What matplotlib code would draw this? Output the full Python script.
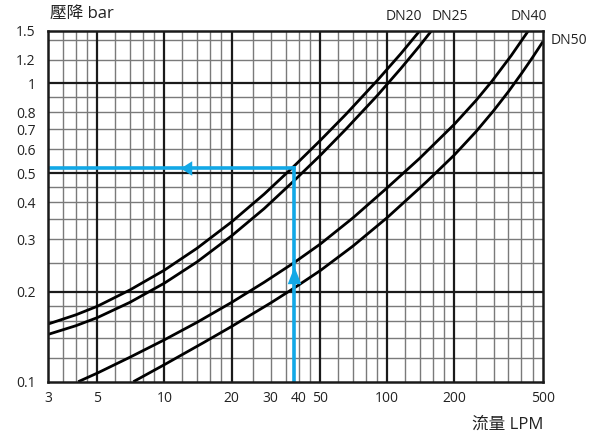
import matplotlib
matplotlib.use('Agg')
import matplotlib.pyplot as plt
from matplotlib.ticker import NullLocator

plt.rcParams['font.family'] = ['Open Sans', 'Noto Sans CJK TC', 'DejaVu Sans']

# ---- data ----
series_names = ['DN20', 'DN25', 'DN40', 'DN50']
dn20_flow = [3, 4, 5, 7, 10, 14, 20, 28, 38, 50, 65, 90, 115, 140]
dn20_dp = [0.156, 0.1675, 0.179, 0.203, 0.2366, 0.280, 0.343, 0.425, 0.526, 0.643, 0.785, 1.02, 1.256, 1.5]
dn25_flow = [3, 4, 5, 7, 10, 14, 20, 28, 38, 50, 65, 90, 115, 140, 158]
dn25_dp = [0.144, 0.154, 0.164, 0.1845, 0.214, 0.252, 0.308, 0.380, 0.470, 0.573, 0.70, 0.908, 1.12, 1.337, 1.5]
dn40_flow = [4.1, 5, 7, 10, 14, 20, 28, 38, 50, 70, 100, 140, 200, 250, 295, 360, 430]
dn40_dp = [0.1, 0.1069, 0.1208, 0.1382, 0.1581, 0.1843, 0.2153, 0.250, 0.2891, 0.3535, 0.4467,
           0.561, 0.7287, 0.875, 1.016, 1.238, 1.5]
dn50_flow = [7.25, 10, 15, 20, 30, 38, 50, 70, 100, 150, 200, 250, 300, 350, 400, 450, 500]
dn50_dp = [0.1, 0.1141, 0.1353, 0.1531, 0.1837, 0.2055, 0.2356, 0.2844, 0.3549, 0.4675, 0.5751,
           0.688, 0.809, 0.938, 1.077, 1.224, 1.38]

x_tick_values = [3, 5, 10, 20, 30, 40, 50, 100, 200, 500]
x_tick_labels = ['3', '5', '10', '20', '30', '40', '50', '100', '200', '500']
y_tick_values = [0.1, 0.2, 0.3, 0.4, 0.5, 0.6, 0.7, 0.8, 1, 1.2, 1.5]
y_tick_labels = ['0.1', '0.2', '0.3', '0.4', '0.5', '0.6', '0.7', '0.8', '1', '1.2', '1.5']

x_major_grid = [5, 10, 20, 50, 100, 200]
x_minor_grid = [3.5, 4, 4.5, 6, 7, 8, 9, 12, 14, 16, 18, 25, 30, 35, 40, 45,
                60, 70, 80, 90, 120, 140, 160, 180, 250, 300, 350, 400, 450]
y_major_grid = [0.2, 0.5, 1]
y_minor_grid = [0.12, 0.14, 0.16, 0.18, 0.25, 0.3, 0.35, 0.4, 0.45,
                0.6, 0.7, 0.8, 0.9, 1.2, 1.4]

example_flow = 38.2
example_dp = 0.52
arrow_left_x = 12.46
arrow_up_y = 0.228

# ---- figure ----
fig = plt.figure(figsize=(5.97, 4.34), dpi=100)
ax = fig.add_axes([48 / 597, 1 - 381.7 / 434, 495 / 597, 351 / 434])
ax.set_xscale('log')
ax.set_yscale('log')
ax.set_xlim(3, 500)
ax.set_ylim(0.1, 1.5)

for v in x_minor_grid:
    ax.axvline(v, color='#7a7a7a', lw=1.0, zorder=1)
for v in y_minor_grid:
    ax.axhline(v, color='#7a7a7a', lw=1.0, zorder=1)
for v in x_major_grid:
    ax.axvline(v, color='#1a1a1a', lw=1.6, zorder=1.5)
for v in y_major_grid:
    ax.axhline(v, color='#1a1a1a', lw=1.6, zorder=1.5)

for fx, dp in [(dn20_flow, dn20_dp), (dn25_flow, dn25_dp), (dn40_flow, dn40_dp), (dn50_flow, dn50_dp)]:
    ax.plot(fx, dp, color='black', lw=2.0, solid_capstyle='butt', solid_joinstyle='round', zorder=3)

blue = '#12a8e6'
ax.plot([3.09, example_flow], [example_dp, example_dp], color=blue, lw=2.6, zorder=4,
        solid_capstyle='projecting')
ax.plot([example_flow, example_flow], [0.1, example_dp], color=blue, lw=2.6, zorder=4)
ax.plot([arrow_left_x], [example_dp], marker=[(-0.786, 0), (0.786, 1), (0.786, -1)],
        markersize=10.5, color=blue, markeredgewidth=0, zorder=5)
ax.plot([example_flow], [arrow_up_y], marker=[(0, 1), (-0.78, -1), (0.78, -1)],
        markersize=12.5, color=blue, markeredgewidth=0, zorder=5)

ax.xaxis.set_minor_locator(NullLocator())
ax.yaxis.set_minor_locator(NullLocator())
ax.set_xticks(x_tick_values)
ax.set_xticklabels(x_tick_labels)
ax.set_yticks(y_tick_values)
ax.set_yticklabels(y_tick_labels)
ax.tick_params(axis='both', length=0, labelsize=10, colors='#222222')
ax.tick_params(axis='x', pad=7)
ax.tick_params(axis='y', pad=9)

for s in ax.spines.values():
    s.set_linewidth(1.8)
    s.set_color('#1a1a1a')
    s.set_zorder(6)

# curve labels
fig.text(404 / 597, 1 - 17 / 434, series_names[0], ha='center', va='center', fontsize=10, color='#222222')
fig.text(450 / 597, 1 - 17 / 434, series_names[1], ha='center', va='center', fontsize=10, color='#222222')
fig.text(529 / 597, 1 - 17 / 434, series_names[2], ha='center', va='center', fontsize=10, color='#222222')
fig.text(551 / 597, 1 - 40 / 434, series_names[3], ha='left', va='center', fontsize=10, color='#222222')

fig.text(50 / 597, 1 - 14 / 434, '壓降 bar', ha='left', va='center', fontsize=12, color='#222222')
fig.text(543 / 597, 1 - 425 / 434, '流量 LPM', ha='right', va='center', fontsize=12, color='#222222')

fig.savefig('out.png', dpi=100)
